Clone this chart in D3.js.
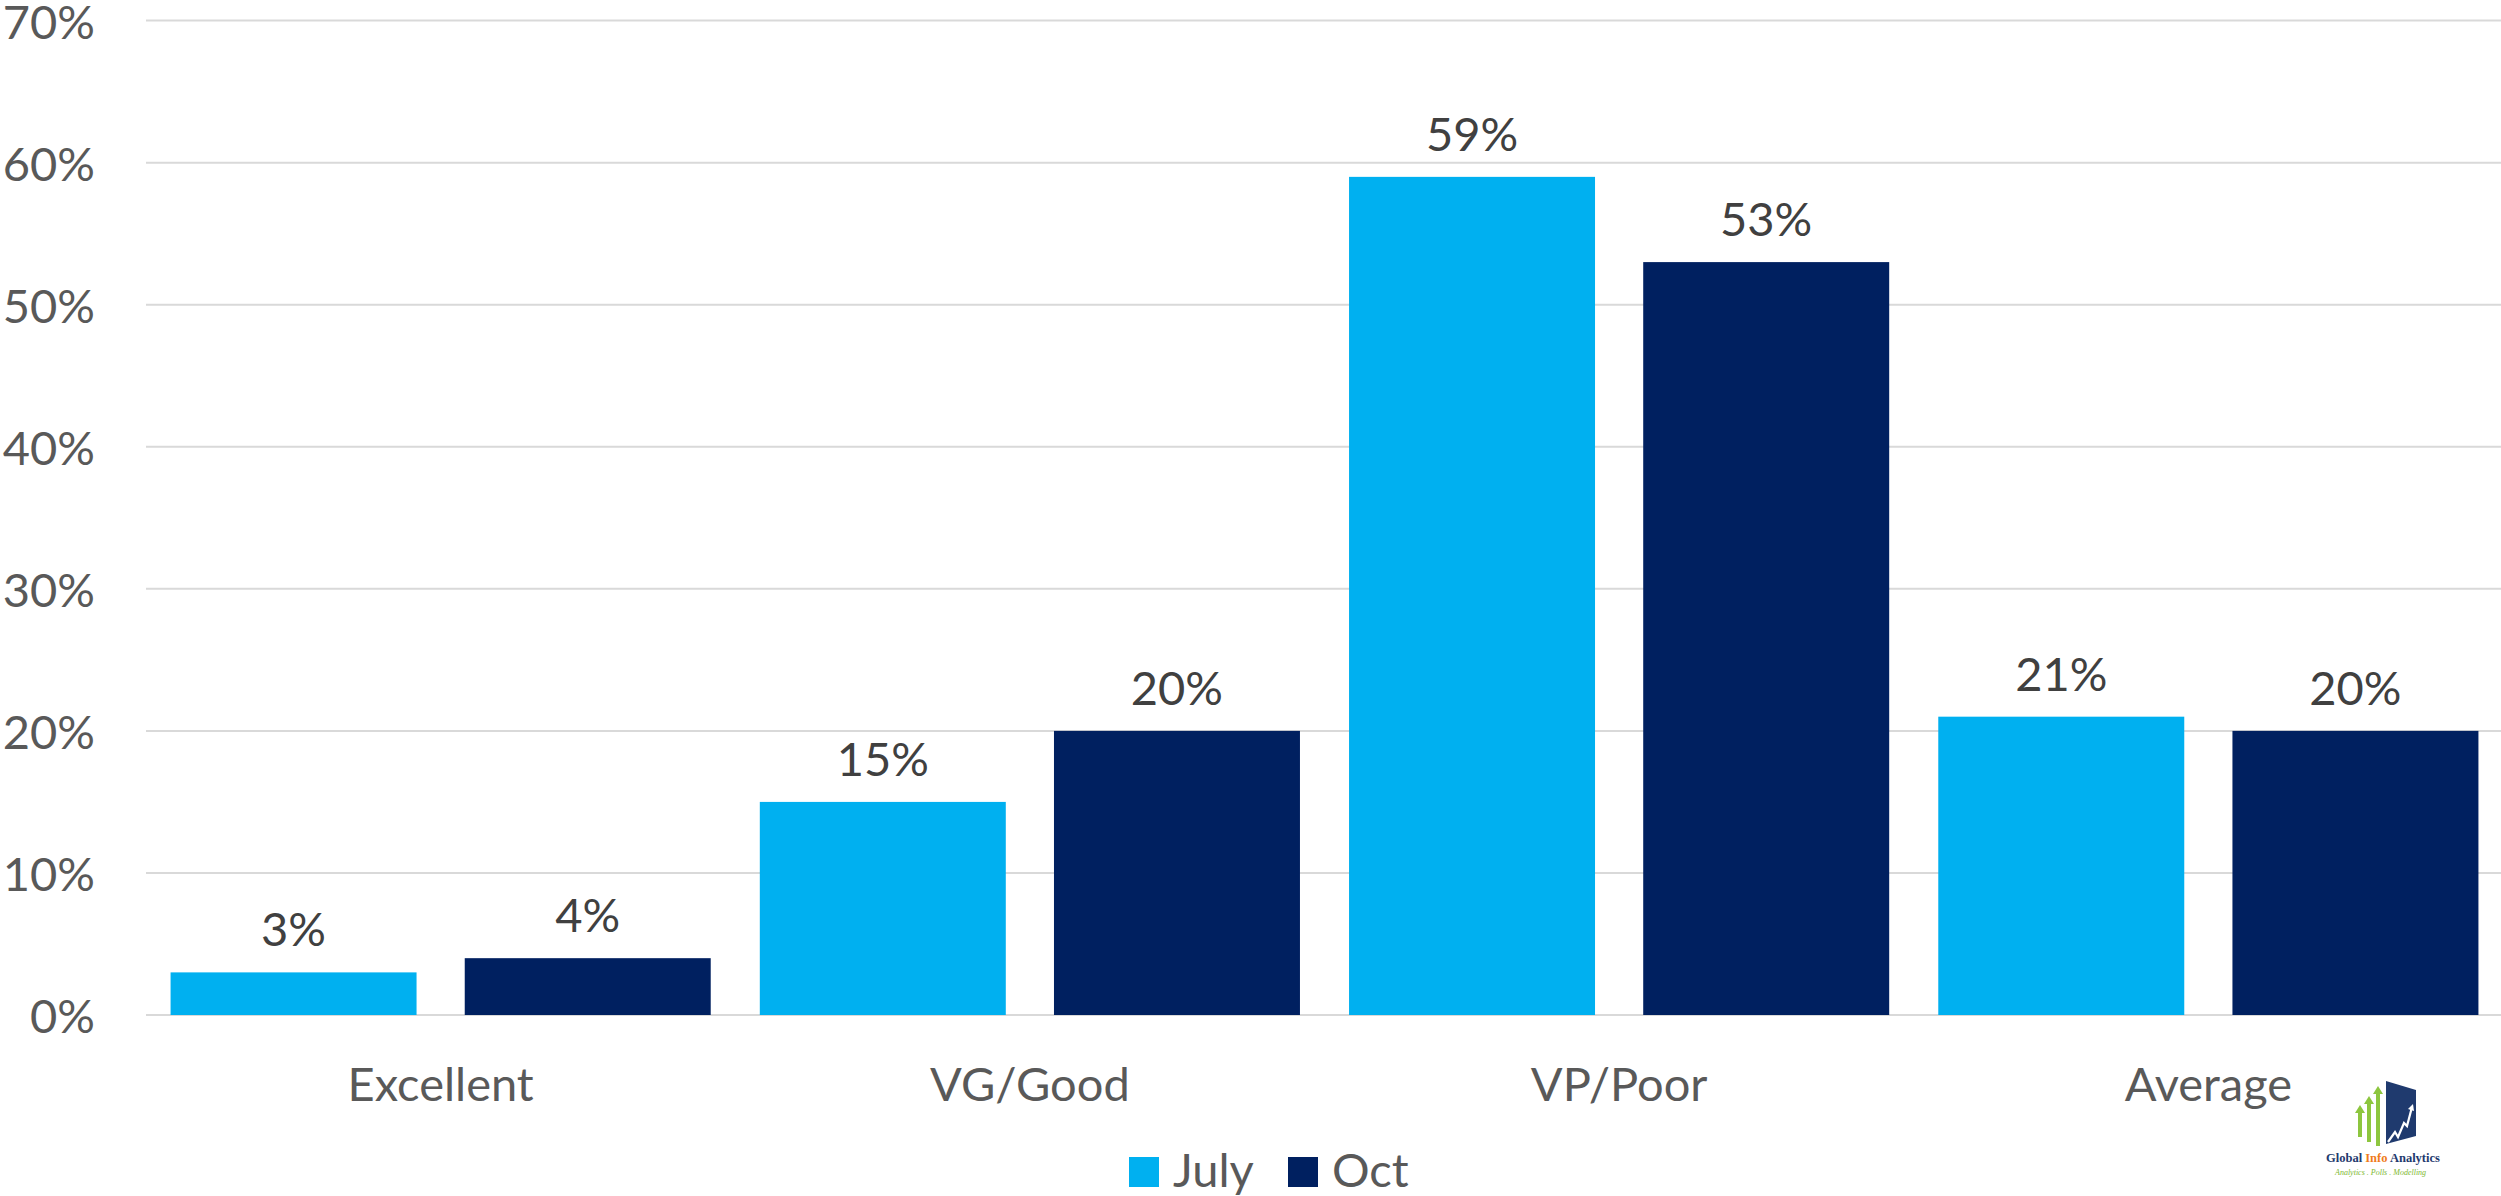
<!DOCTYPE html>
<html>
<head>
<meta charset="utf-8">
<script src="https://cdn.jsdelivr.net/npm/d3@7"></script>
<style>
  html, body { margin: 0; padding: 0; background: #ffffff; }
  svg { display: block; font-family: Lato, "Open Sans", sans-serif; }
</style>
</head>
<body>
<div id="chart"></div>
<script>
// chart data
const categories = ["Excellent", "VG/Good", "VP/Poor", "Average"];
const seriesNames = ["July", "Oct"];
const julyValues = [0.03, 0.15, 0.59, 0.21];
const octValues = [0.04, 0.20, 0.53, 0.20];
const yTicks = [0, 0.1, 0.2, 0.3, 0.4, 0.5, 0.6, 0.7];
const colors = ["#00B0F0", "#002060"];

const W = 2501, H = 1196;
const plotLeft = 146, plotRight = 2503, plotTop = 20.6, plotBottom = 1015;

const svg = d3.select("#chart").append("svg")
    .attr("width", W)
    .attr("height", H);

const rows = categories.map((c, i) => ({
    category: c,
    values: [
        { series: "July", value: julyValues[i] },
        { series: "Oct", value: octValues[i] }
    ]
}));

// scales
const x0 = d3.scaleBand()
    .domain(categories)
    .range([plotLeft, plotRight])
    .paddingInner(0.0833)
    .paddingOuter(0.0417);

const x1 = d3.scaleBand()
    .domain(seriesNames)
    .range([0, x0.bandwidth()])
    .paddingInner(0.1638)
    .paddingOuter(0);

const y = d3.scaleLinear()
    .domain([0, 0.7])
    .range([plotBottom, plotTop]);

const color = d3.scaleOrdinal().domain(seriesNames).range(colors);

// gridlines
svg.append("g")
    .selectAll("line")
    .data(yTicks)
    .join("line")
    .attr("x1", plotLeft)
    .attr("x2", W)
    .attr("y1", d => y(d))
    .attr("y2", d => y(d))
    .attr("stroke", "#d9d9d9")
    .attr("stroke-width", 2);

// y axis labels
const yAxis = svg.append("g")
    .attr("transform", "translate(" + (plotLeft - 51) + ",0)")
    .call(d3.axisLeft(y).tickValues(yTicks).tickFormat(d3.format(".0%")).tickSize(0).tickPadding(0));
yAxis.select(".domain").remove();
yAxis.selectAll("text")
    .attr("font-family", "Lato, 'Open Sans', sans-serif")
    .attr("font-size", 47)
    .attr("fill", "#595959")
    .attr("dy", "0.38em");

// bars
const groups = svg.append("g")
    .selectAll("g")
    .data(rows)
    .join("g")
    .attr("transform", d => "translate(" + x0(d.category) + ",0)");

groups.selectAll("rect")
    .data(d => d.values)
    .join("rect")
    .attr("x", d => x1(d.series))
    .attr("y", d => y(d.value))
    .attr("width", x1.bandwidth())
    .attr("height", d => y(0) - y(d.value))
    .attr("fill", d => color(d.series));

// value labels
groups.selectAll("text")
    .data(d => d.values)
    .join("text")
    .attr("x", d => x1(d.series) + x1.bandwidth() / 2)
    .attr("y", d => y(d.value) - 26)
    .attr("text-anchor", "middle")
    .attr("font-size", 47)
    .attr("fill", "#404040")
    .text(d => d3.format(".0%")(d.value));

// category labels
const xAxis = svg.append("g")
    .attr("transform", "translate(0," + plotBottom + ")")
    .call(d3.axisBottom(x0).tickSize(0).tickPadding(0));
xAxis.select(".domain").remove();
xAxis.selectAll("text")
    .attr("font-family", "Lato, 'Open Sans', sans-serif")
    .attr("font-size", 47)
    .attr("fill", "#595959")
    .attr("y", 86)
    .attr("dy", 0);

// legend
const legendX = [1129, 1288];
const legend = svg.append("g")
    .selectAll("g")
    .data(seriesNames)
    .join("g")
    .attr("transform", (d, i) => "translate(" + legendX[i] + ",1157)");
legend.append("rect")
    .attr("width", 30)
    .attr("height", 30)
    .attr("fill", d => color(d));
legend.append("text")
    .attr("x", 44)
    .attr("y", 30)
    .attr("font-size", 47)
    .attr("fill", "#595959")
    .text(d => d);

// logo
const logo = svg.append("g").attr("transform", "translate(2300,1060)");
const green = "#8dc63f";
// three green arrows: [centre x, top y, bottom y]
[[60, 45, 77], [69, 36, 82], [78, 26, 86]].forEach(a => {
    const [cx, top, bottom] = a;
    logo.append("rect")
        .attr("x", cx - 2)
        .attr("y", top + 7)
        .attr("width", 4)
        .attr("height", bottom - top - 7)
        .attr("fill", green);
    logo.append("path")
        .attr("d", "M" + (cx - 5) + "," + (top + 8) + " L" + cx + "," + top + " L" + (cx + 5) + "," + (top + 8) + " Z")
        .attr("fill", green);
});
// blue panel
logo.append("path")
    .attr("d", "M86,21 L116,30 L116,76 L86,84 Z")
    .attr("fill", "#1f3a6e");
logo.append("path")
    .attr("d", "M88,82 L95,72 L98,77 L104,63 L107,66 L112,47")
    .attr("fill", "none")
    .attr("stroke", "#ffffff")
    .attr("stroke-width", 2.2);
logo.append("path")
    .attr("d", "M108,49 L113,44 L114,51 Z")
    .attr("fill", "#ffffff");
const logoText = logo.append("text")
    .attr("x", 26)
    .attr("y", 102)
    .attr("font-family", "'Liberation Serif', serif")
    .attr("font-weight", "bold")
    .attr("font-size", 12.5)
    .attr("fill", "#1f3a6e");
logoText.append("tspan").text("Global ");
logoText.append("tspan").attr("fill", "#f07c1b").text("Info");
logoText.append("tspan").text(" Analytics");
logo.append("text")
    .attr("x", 35)
    .attr("y", 115)
    .attr("font-family", "'Liberation Serif', serif")
    .attr("font-style", "italic")
    .attr("font-size", 8)
    .attr("fill", "#7cb82f")
    .text("Analytics . Polls . Modelling");
</script>
</body>
</html>
